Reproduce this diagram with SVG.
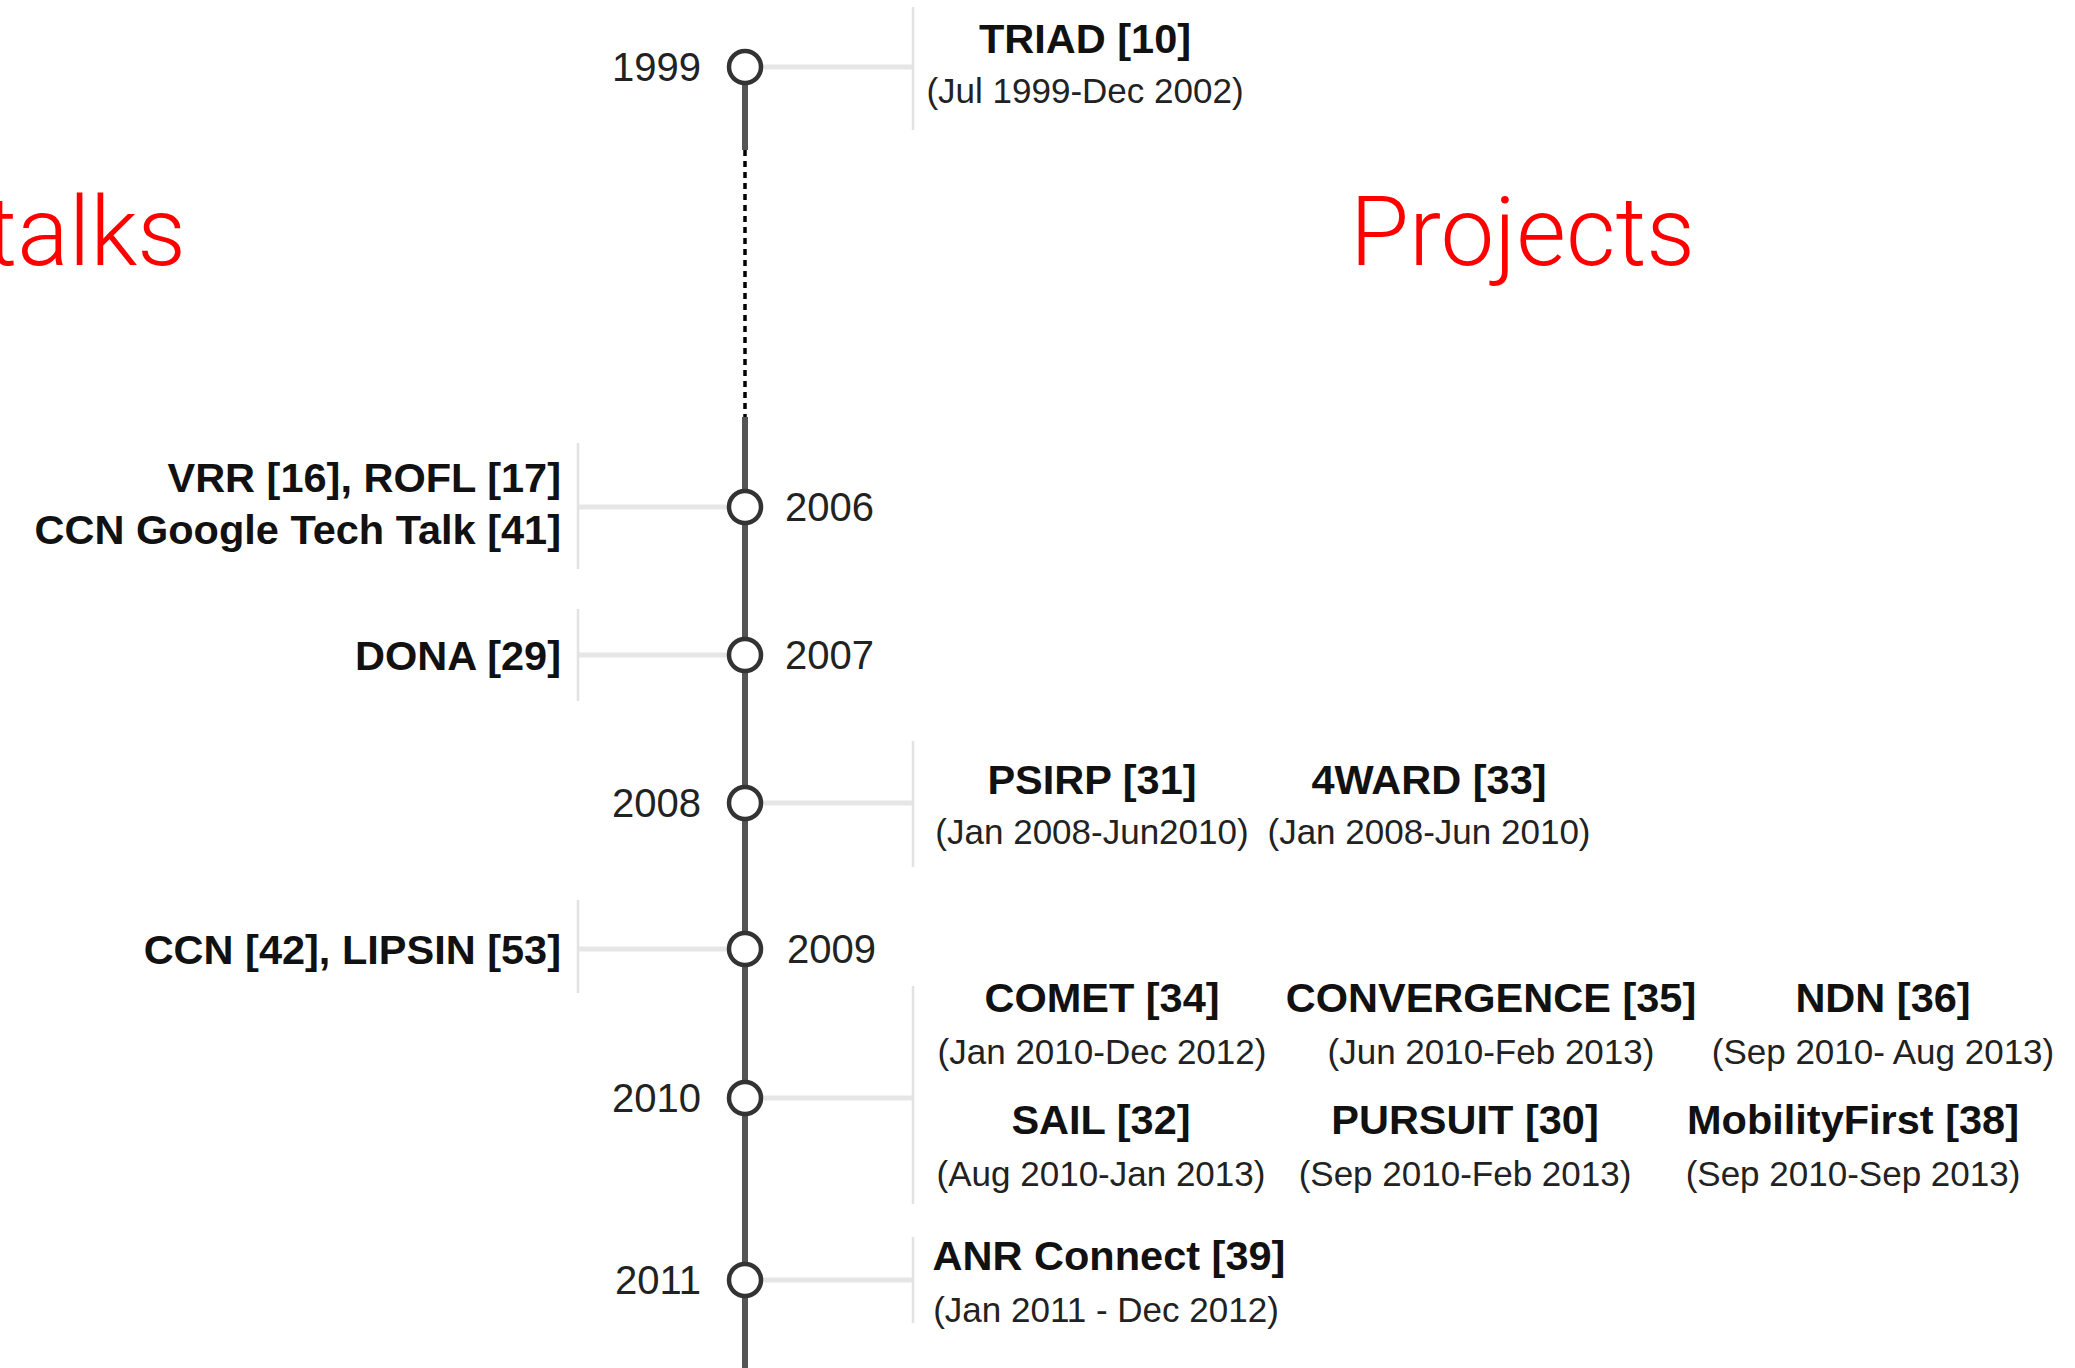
<svg xmlns="http://www.w3.org/2000/svg" width="2075" height="1368" viewBox="0 0 2075 1368">
<style>
.bg{fill:#ffffff}
.axis{stroke:#555555;stroke-width:6;fill:none}
.dots{stroke:#000000;stroke-width:3.5;stroke-dasharray:6 5;fill:none}
.tick{stroke:#e6e6e6;stroke-width:5;fill:none}
.brk{stroke:#e2e2e2;stroke-width:2.5;fill:none}
.dot{fill:#ffffff;stroke:#333333;stroke-width:4.5}
.yr{font-family:"Liberation Sans",Arial,sans-serif;font-size:40px;fill:#222222}
.ttl{font-family:"Liberation Sans",Arial,sans-serif;font-size:41.5px;font-weight:bold;fill:#111111}
.dt{font-family:"Liberation Sans",Arial,sans-serif;font-size:35px;fill:#222222}
.big{font-family:Roboto,"Liberation Sans",sans-serif;font-weight:300;font-size:96px;fill:#ff0000}
.c{text-anchor:middle}
.e{text-anchor:end}
</style>
<rect class="bg" x="0" y="0" width="2075" height="1368"/>
<g id="headings">
<text class="big e" x="186" y="265">talks</text>
<text class="big" x="1350" y="265">Projects</text>
</g>
<g id="connectors">
<line class="axis" x1="745" y1="67" x2="745" y2="150"/>
<line class="dots" x1="745" y1="150" x2="745" y2="417"/>
<line class="axis" x1="745" y1="417" x2="745" y2="1368"/>
<line class="tick" x1="745" y1="67" x2="913" y2="67"/>
<line class="brk" x1="913" y1="7" x2="913" y2="130"/>
<line class="tick" x1="578" y1="507" x2="745" y2="507"/>
<line class="brk" x1="578" y1="443" x2="578" y2="569"/>
<line class="tick" x1="578" y1="655" x2="745" y2="655"/>
<line class="brk" x1="578" y1="609" x2="578" y2="701"/>
<line class="tick" x1="745" y1="803" x2="913" y2="803"/>
<line class="brk" x1="913" y1="741" x2="913" y2="867"/>
<line class="tick" x1="578" y1="949" x2="745" y2="949"/>
<line class="brk" x1="578" y1="900" x2="578" y2="993"/>
<line class="tick" x1="745" y1="1098" x2="913" y2="1098"/>
<line class="brk" x1="913" y1="986" x2="913" y2="1204"/>
<line class="tick" x1="745" y1="1280" x2="913" y2="1280"/>
<line class="brk" x1="913" y1="1237" x2="913" y2="1323"/>
</g>
<g id="n1999">
<circle class="dot" cx="745" cy="67" r="16"/>
<text class="yr e" x="701" y="81">1999</text>
<text class="ttl c" x="1085" y="53">TRIAD [10]</text>
<text class="dt c" x="1085" y="103">(Jul 1999-Dec 2002)</text>
</g>
<g id="n2006">
<circle class="dot" cx="745" cy="507" r="16"/>
<text class="yr" x="785" y="521">2006</text>
<text class="ttl e" x="561" y="492">VRR [16], ROFL [17]</text>
<text class="ttl e" x="561" y="544">CCN Google Tech Talk [41]</text>
</g>
<g id="n2007">
<circle class="dot" cx="745" cy="655" r="16"/>
<text class="yr" x="785" y="669">2007</text>
<text class="ttl e" x="561" y="670">DONA [29]</text>
</g>
<g id="n2008">
<circle class="dot" cx="745" cy="803" r="16"/>
<text class="yr e" x="701" y="817">2008</text>
<text class="ttl c" x="1092" y="794">PSIRP [31]</text>
<text class="dt c" x="1092" y="844">(Jan 2008-Jun2010)</text>
<text class="ttl c" x="1429" y="794">4WARD [33]</text>
<text class="dt c" x="1429" y="844">(Jan 2008-Jun 2010)</text>
</g>
<g id="n2009">
<circle class="dot" cx="745" cy="949" r="16"/>
<text class="yr" x="787" y="963">2009</text>
<text class="ttl e" x="561" y="964">CCN [42], LIPSIN [53]</text>
</g>
<g id="n2010">
<circle class="dot" cx="745" cy="1098" r="16"/>
<text class="yr e" x="701" y="1112">2010</text>
<text class="ttl c" x="1102" y="1012">COMET [34]</text>
<text class="dt c" x="1102" y="1064">(Jan 2010-Dec 2012)</text>
<text class="ttl c" x="1491" y="1012">CONVERGENCE [35]</text>
<text class="dt c" x="1491" y="1064">(Jun 2010-Feb 2013)</text>
<text class="ttl c" x="1883" y="1012">NDN [36]</text>
<text class="dt c" x="1883" y="1064">(Sep 2010- Aug 2013)</text>
<text class="ttl c" x="1101" y="1134">SAIL [32]</text>
<text class="dt c" x="1101" y="1186">(Aug 2010-Jan 2013)</text>
<text class="ttl c" x="1465" y="1134">PURSUIT [30]</text>
<text class="dt c" x="1465" y="1186">(Sep 2010-Feb 2013)</text>
<text class="ttl c" x="1853" y="1134">MobilityFirst [38]</text>
<text class="dt c" x="1853" y="1186">(Sep 2010-Sep 2013)</text>
</g>
<g id="n2011">
<circle class="dot" cx="745" cy="1280" r="16"/>
<text class="yr e" x="701" y="1294">2011</text>
<text class="ttl c" x="1109" y="1270">ANR Connect  [39]</text>
<text class="dt c" x="1106" y="1322">(Jan 2011 - Dec 2012)</text>
</g>
</svg>
